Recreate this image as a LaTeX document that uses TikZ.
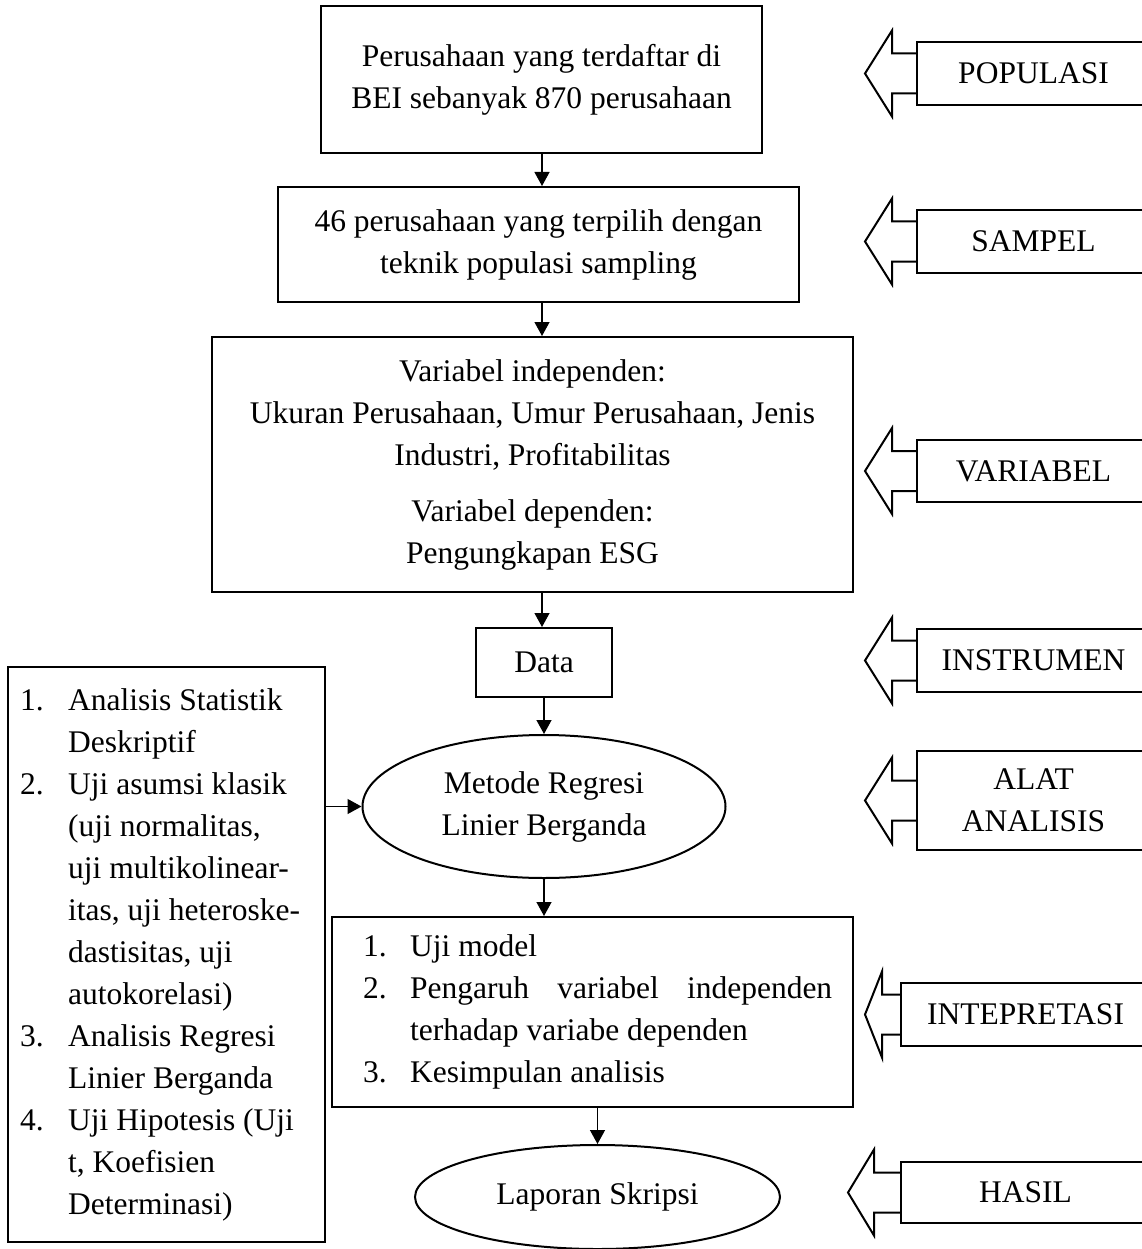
\documentclass[tikz,border=0pt]{standalone}
\usepackage{fontspec}
\setmainfont{Liberation Serif}
\usetikzlibrary{arrows.meta,shapes.geometric,calc}
\newcommand\blkarr[3]{%
  \draw[blk] ([yshift=20pt]#1.west) -- ++(-#2,0) -- ++(0,-23) -- ++(-#3,43)
    -- ++(#3,43) -- ++(0,-23) -- ([yshift=-20pt]#1.west);}
\begin{document}
\begin{tikzpicture}[x=1pt,y=-1pt,
  every node/.style={font=\fontsize{31.5}{42}\selectfont},
  box/.style={draw, line width=2pt, inner sep=0pt, align=center},
  ell/.style={draw, ellipse, line width=2pt, inner sep=0pt, align=center},
  lbl/.style={draw, line width=2pt, inner sep=0pt, align=center, minimum width=233pt},
  lbl2/.style={draw, line width=2pt, inner sep=0pt, align=center, minimum width=249pt},
  blk/.style={line width=2pt, line join=miter},
  arr/.style={line width=1.3pt, -{Triangle[length=14pt,width=15pt]}}]
\useasboundingbox (0,0) rectangle (1142,1249);
\clip (0,0) rectangle (1142,1249);

% main column
\node[box, minimum width=441pt, minimum height=147pt] (b1) at (541.5,79.5)
  {Perusahaan yang terdaftar di\\BEI sebanyak 870 perusahaan};
\node[box, minimum width=521pt, minimum height=115pt] (b2) at (538.5,244.5)
  {46 perusahaan yang terpilih dengan\\teknik populasi sampling};
\node[box, minimum width=641pt, minimum height=255pt] (b3) at (532.5,464.5)
  {Variabel independen:\\Ukuran Perusahaan, Umur Perusahaan, Jenis\\Industri, Profitabilitas\\[14pt]Variabel dependen:\\Pengungkapan ESG};
\node[box, minimum width=136pt, minimum height=69pt] (data) at (544,662.5) {Data};
\node[ell, minimum width=363pt, minimum height=143pt] (met) at (544,806.5)
  {Metode Regresi\\Linier Berganda};
\node[box, minimum width=521pt, minimum height=190pt] (res) at (592.5,1012) {};
\node[anchor=west, inner sep=0pt] (restx) at (363,1011.5) {%
  \begin{tabular}{@{}p{47pt}@{}l@{}}
  1.& Uji model\\
  2.& \makebox[422pt][s]{Pengaruh\hfill variabel\hfill independen}\\
    & terhadap variabe dependen\\
  3.& Kesimpulan analisis
  \end{tabular}};
\node[ell, minimum width=365pt, minimum height=104pt] (lap) at (597.5,1197) {Laporan Skripsi};

% left box
\node[box, minimum width=317pt, minimum height=575pt] (lb) at (166.5,954.5) {};
\node[anchor=west, inner sep=0pt] (lbtx) at (20,954.5) {%
  \begin{tabular}{@{}p{48pt}@{}l@{}}
  1.& Analisis Statistik\\
    & Deskriptif\\
  2.& Uji asumsi klasik\\
    & (uji normalitas,\\
    & uji multikolinear-\\
    & itas, uji heteroske-\\
    & dastisitas, uji\\
    & autokorelasi)\\
  3.& Analisis Regresi\\
    & Linier Berganda\\
  4.& Uji Hipotesis (Uji\\
    & t, Koefisien\\
    & Determinasi)
  \end{tabular}};

% connectors
\coordinate (ax) at (542,0);
\draw[arr] (b1.south -| ax) -- (b2.north -| ax);
\draw[arr] (b2.south -| ax) -- (b3.north -| ax);
\draw[arr] (b3.south -| ax) -- (data.north -| ax);
\draw[arr] (data.south) -- (met.north);
\draw[arr] (met.south) -- (res.north -| met.south);
\draw[arr] (res.south -| lap.north) -- (lap.north);
\draw[arr] (met.west -| lb.east) -- (met.west);

% right labels
\node[lbl, minimum height=63pt] (lpop) at (1033.5,73.5) {POPULASI};
\node[lbl, minimum height=63pt] (lsam) at (1033.5,241.5) {SAMPEL};
\node[lbl, minimum height=62pt] (lvar) at (1033.5,471) {VARIABEL};
\node[lbl, minimum height=63pt] (lins) at (1033.5,660.5) {INSTRUMEN};
\node[lbl, minimum height=99pt] (lalat) at (1033.5,800.5) {ALAT\\ANALISIS};
\node[lbl2, minimum height=63pt] (lint) at (1025.5,1014.5) {INTEPRETASI};
\node[lbl2, minimum height=61pt] (lhas) at (1025.5,1192.5) {HASIL};

\blkarr{lpop}{24}{27}
\blkarr{lsam}{24}{27}
\blkarr{lvar}{24}{27}
\blkarr{lins}{24}{27}
\blkarr{lalat}{24}{27}
\blkarr{lint}{18}{17}
\blkarr{lhas}{26}{26}
\end{tikzpicture}
\end{document}
